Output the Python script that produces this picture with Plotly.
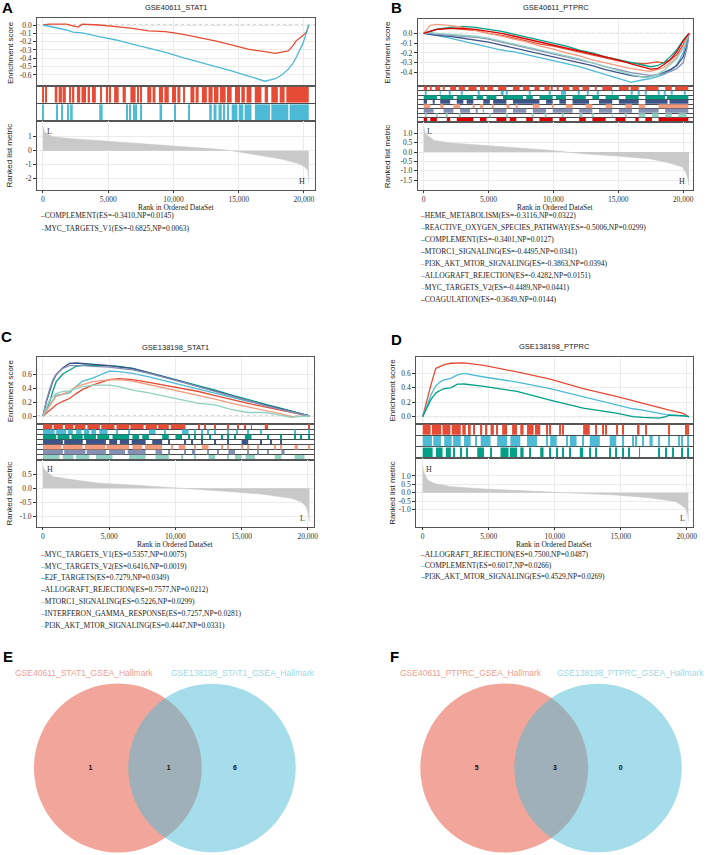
import plotly.graph_objects as go

# ============================ DATA ============================
NPG = ["#E64B35", "#4DBBD5", "#00A087", "#3C5488", "#F39B7F", "#8491B4", "#91D1C2", "#DC0000"]
X_TICKS = [0, 5000, 10000, 15000, 20000]
X_TICKTEXT = ["0", "5,000", "10,000", "15,000", "20,000"]

# ---- Panel A : GSE40611_STAT1 ----
A_title = "GSE40611_STAT1"
A_sets = ["COMPLEMENT", "MYC_TARGETS_V1"]
A_es = [-0.3410, -0.6825]
A_np = [0.0145, 0.0063]
A_rank = [0, 500, 1000, 1800, 2300, 2700, 3000, 4300, 5600, 6850, 8100, 9400, 10650, 11900,
          13200, 14450, 15700, 17000, 17800, 18300, 18800, 19150, 19400, 19900, 20200, 20370]
A_curve_1 = [0, 0.01, 0.01, 0.01, -0.01, -0.025, 0.01, 0.0, -0.02, -0.04, -0.07, -0.08, -0.11, -0.15,
             -0.19, -0.24, -0.29, -0.32, -0.34, -0.325, -0.31, -0.25, -0.19, -0.13, -0.08, 0.0]
A_curve_2 = [0, -0.015, -0.03, -0.06, -0.085, -0.09, -0.095, -0.14, -0.18, -0.23, -0.28, -0.33, -0.39, -0.44,
             -0.50, -0.55, -0.61, -0.675, -0.645, -0.60, -0.53, -0.46, -0.39, -0.23, -0.09, 0.0]
A_hits_1 = [0, 250, (900, 1100), (1200, 1450), (1500, 1750), 2080, (2280, 2400), (2600, 2850), (2950, 3300),
            (3420, 3600), (3750, 4050), (4380, 4500), (4820, 5000), (5100, 5200), (5450, 5800), (6100, 6350),
            (6700, 7100), 7300, 7500, (7990, 8300), (8400, 8620), (8880, 9200), (9300, 9640), (9890, 10200),
            (10300, 10530), 10800, (11300, 11600), (11700, 11930), (12180, 12560), (12680, 13000),
            (13100, 13450), (13570, 14000), (14100, 14460), (14710, 15100), (15200, 15470), (15600, 15980),
            (16230, 16740), (16990, 17250), (17500, 18000), (18140, 18520), (18650, 20370)]
A_hits_2 = [0, 1065, 1470, 1950, (2080, 2280), (4310, 4570), 6470, 6650, 6980, 7150, 7480, (8930, 9130),
            10150, 11160, (12740, 12940), (13070, 13300), (13450, 13700), (13800, 13950), 14200,
            (14460, 14900), (15000, 15350), (15450, 15980), (16240, 17400), (17500, 18800), (18900, 20370)]
A_metric_rank = [0, 30, 100, 250, 760, 1780, 4310, 6850, 9390, 10650, 11925, 13195, 14460, 15730,
                 17000, 18265, 19535, 20040, 20300, 20350, 20370]
A_metric = [1.75, 1.6, 1.4, 1.25, 1.0, 0.89, 0.72, 0.58, 0.41, 0.34, 0.22, 0.12, 0.0, -0.19,
            -0.38, -0.6, -0.91, -1.15, -1.4, -1.8, -2.35]
A_ends = ["L", "H"]
A_es_ticks = [0.0, -0.1, -0.2, -0.3, -0.4, -0.5, -0.6]
A_rk_ticks = [1, 0, -1, -2]

# ---- Panel B : GSE40611_PTPRC ----
B_title = "GSE40611_PTPRC"
B_sets = ["HEME_METABOLISM", "REACTIVE_OXYGEN_SPECIES_PATHWAY", "COMPLEMENT", "MTORC1_SIGNALING",
          "PI3K_AKT_MTOR_SIGNALING", "ALLOGRAFT_REJECTION", "MYC_TARGETS_V2", "COAGULATION"]
B_es = [-0.3116, -0.5006, -0.3401, -0.4495, -0.3863, -0.4282, -0.4489, -0.3649]
B_np = [0.0322, 0.0299, 0.0127, 0.0341, 0.0394, 0.0151, 0.0441, 0.0144]
B_rank = [0, 500, 1000, 2000, 3000, 4000, 5000, 6000, 7000, 8000, 9000, 10000, 11000, 12000, 13000,
          14000, 15000, 16000, 17000, 17500, 18000, 18500, 19000, 19500, 20000, 20300, 20450]
B_curve_1 = [0, 0.02, 0.04, 0.05, 0.04, 0.03, 0.0, -0.02, -0.05, -0.08, -0.11, -0.13, -0.16, -0.19, -0.22,
             -0.25, -0.28, -0.30, -0.31, -0.30, -0.29, -0.30, -0.27, -0.22, -0.12, -0.04, 0.0]
B_curve_2 = [0, -0.01, -0.02, -0.05, -0.08, -0.11, -0.14, -0.17, -0.19, -0.22, -0.25, -0.28, -0.31, -0.34,
             -0.38, -0.42, -0.46, -0.50, -0.47, -0.46, -0.44, -0.42, -0.38, -0.32, -0.20, -0.08, 0.0]
B_curve_3 = [0, 0.02, 0.04, 0.06, 0.07, 0.06, 0.04, 0.02, -0.01, -0.04, -0.07, -0.10, -0.13, -0.17, -0.20,
             -0.24, -0.27, -0.30, -0.33, -0.34, -0.33, -0.30, -0.24, -0.17, -0.07, -0.02, 0.0]
B_curve_4 = [0, -0.01, -0.02, -0.03, -0.05, -0.07, -0.09, -0.12, -0.15, -0.18, -0.21, -0.24, -0.27, -0.30,
             -0.33, -0.37, -0.40, -0.43, -0.445, -0.44, -0.42, -0.40, -0.37, -0.33, -0.24, -0.12, 0.0]
B_curve_5 = [0, 0.08, 0.09, 0.08, 0.06, 0.03, 0.0, -0.03, -0.06, -0.09, -0.13, -0.16, -0.20, -0.23, -0.27,
             -0.30, -0.33, -0.36, -0.38, -0.386, -0.37, -0.35, -0.30, -0.25, -0.15, -0.06, 0.0]
B_curve_6 = [0, 0.0, -0.01, -0.02, -0.03, -0.04, -0.06, -0.09, -0.12, -0.15, -0.18, -0.21, -0.24, -0.27,
             -0.30, -0.34, -0.37, -0.40, -0.42, -0.428, -0.42, -0.41, -0.39, -0.36, -0.30, -0.15, 0.0]
B_curve_7 = [0, 0.01, 0.0, -0.01, -0.02, -0.03, -0.05, -0.08, -0.11, -0.14, -0.17, -0.20, -0.23, -0.26,
             -0.30, -0.34, -0.38, -0.42, -0.449, -0.44, -0.42, -0.38, -0.32, -0.26, -0.15, -0.05, 0.0]
B_curve_8 = [0, 0.02, 0.04, 0.05, 0.05, 0.04, 0.02, 0.0, -0.03, -0.06, -0.09, -0.12, -0.15, -0.18, -0.21,
             -0.24, -0.27, -0.31, -0.35, -0.365, -0.36, -0.32, -0.27, -0.19, -0.08, -0.03, 0.0]
B_hits_1 = [(0, 255), 510, (893, 1275), 1530, (2040, 2500), (2700, 3188), (3443, 4080), (4335, 4700),
            (4900, 5355), (5738, 6375), (6885, 7395), (7650, 8160), (8543, 8925), (9308, 9690), (9800, 9945),
            10328, (10710, 11220), (11475, 11985), (12240, 12750), 13260, (13770, 14535), (15045, 15800),
            (15950, 16575), (17085, 18105), (18615, 19125), (19380, 20400)]
B_hits_2 = [128, 1275, 2040, 2933, 4208, 5993, 6120, 6375, 8160, 9690, (10583, 10965), 11985, 12623, 13388,
            14535, 16065, 16575, 17085, 18105, 18615, 19125, 20145]
B_hits_3 = [(0, 1020), (1275, 2295), (2550, 3825), (4080, 4590), (4845, 5610), (6120, 7650), (7905, 8415),
            (8925, 9945), (10200, 10965), (11475, 12495), (13005, 13515), (14025, 15045), (15555, 16575),
            (17085, 18600), (18750, 20400)]
B_hits_4 = [(0, 255), 765, (1275, 2040), (2550, 3060), (3315, 3825), (4590, 5100), (5355, 6375), (6885, 8925),
            (9435, 9945), (10455, 10965), (11475, 12750), (13515, 14535), (15045, 16575), (17085, 18800),
            (18950, 20400)]
B_hits_5 = [(0, 510), (1275, 1530), (2295, 2805), 3825, (4335, 4590), 5355, (6375, 6630), 7140, (8415, 8925),
            9945, (10965, 11475), (12495, 13005), (14025, 14535), (15555, 16065), (16575, 17085),
            (18105, 20400)]
B_hits_6 = [(0, 765), (1530, 2295), (2805, 3570), 4080, 4590, (5355, 6375), (6885, 7905), (8415, 9435),
            (9945, 11475), (11985, 13005), (13515, 14535), (15045, 16065), (16575, 18105), (18615, 20400)]
B_hits_7 = [128, 1020, 1785, 2805, 5100, 6375, 8415, 9435, 10710, (11985, 12240), 13005, 14535, 15555,
            (16575, 17085), (17595, 18105), (18615, 19125), (19635, 20273)]
B_hits_8 = [(0, 255), (510, 1020), (1785, 2040), (2550, 3825), (4335, 4845), (5610, 6375), (6630, 7140),
            (7905, 8415), (8925, 9945), (10455, 10965), (11985, 12495), (13005, 14025), (14790, 15555),
            (16320, 16575), (17085, 17595), (18105, 20400)]
B_metric_rank = [0, 60, 180, 810, 2090, 4640, 7190, 9745, 11020, 12300, 14850, 17400, 18670, 19950,
                 20200, 20400, 20450]
B_metric = [1.35, 1.15, 0.95, 0.62, 0.48, 0.36, 0.23, 0.09, 0.0, -0.09, -0.21, -0.36, -0.54, -0.80,
            -1.07, -1.5, -1.79]
B_ends = ["L", "H"]
B_es_ticks = [0.0, -0.1, -0.2, -0.3, -0.4]
B_rk_ticks = [1.0, 0.5, 0.0, -0.5, -1.0, -1.5]

# ---- Panel C : GSE138198_STAT1 ----
C_title = "GSE138198_STAT1"
C_sets = ["MYC_TARGETS_V1", "MYC_TARGETS_V2", "E2F_TARGETS", "ALLOGRAFT_REJECTION", "MTORC1_SIGNALING",
          "INTERFERON_GAMMA_RESPONSE", "PI3K_AKT_MTOR_SIGNALING"]
C_es = [0.5357, 0.6416, 0.7279, 0.7577, 0.5226, 0.7257, 0.4447]
C_np = [0.0075, 0.0019, 0.0349, 0.0212, 0.0299, 0.0281, 0.0331]
C_rank = [0, 250, 500, 750, 1000, 1500, 2000, 2500, 3000, 3750, 5000, 5750, 6750, 8000, 9250, 10500,
          11750, 13000, 14250, 15500, 16750, 18000, 18750, 19250, 19750, 20125]
C_curve_1 = [0, 0.04, 0.09, 0.13, 0.16, 0.21, 0.25, 0.32, 0.38, 0.44, 0.52, 0.535, 0.52, 0.48, 0.44, 0.40,
             0.35, 0.29, 0.23, 0.18, 0.13, 0.08, 0.05, 0.04, 0.02, 0.0]
C_curve_2 = [0, 0.08, 0.16, 0.24, 0.30, 0.31, 0.33, 0.42, 0.50, 0.54, 0.64, 0.635, 0.61, 0.56, 0.50, 0.45,
             0.39, 0.33, 0.27, 0.21, 0.16, 0.10, 0.07, 0.05, 0.02, 0.0]
C_curve_3 = [0, 0.10, 0.20, 0.36, 0.49, 0.60, 0.66, 0.71, 0.725, 0.728, 0.72, 0.71, 0.68, 0.62, 0.56, 0.50,
             0.43, 0.37, 0.30, 0.23, 0.17, 0.11, 0.07, 0.05, 0.02, 0.0]
C_curve_4 = [0, 0.20, 0.35, 0.50, 0.59, 0.69, 0.75, 0.757, 0.75, 0.74, 0.72, 0.70, 0.68, 0.62, 0.56, 0.49,
             0.42, 0.36, 0.29, 0.22, 0.16, 0.10, 0.06, 0.04, 0.02, 0.0]
C_curve_5 = [0, 0.08, 0.16, 0.22, 0.28, 0.32, 0.35, 0.42, 0.45, 0.49, 0.515, 0.52, 0.50, 0.45, 0.40, 0.35,
             0.30, 0.24, 0.18, 0.13, 0.09, 0.03, -0.01, -0.005, 0.0, 0.0]
C_curve_6 = [0, 0.22, 0.38, 0.52, 0.60, 0.68, 0.72, 0.725, 0.72, 0.71, 0.70, 0.68, 0.66, 0.61, 0.55, 0.48,
             0.42, 0.35, 0.28, 0.22, 0.15, 0.09, 0.06, 0.04, 0.02, 0.0]
C_curve_7 = [0, 0.12, 0.23, 0.28, 0.32, 0.35, 0.36, 0.39, 0.42, 0.44, 0.44, 0.42, 0.37, 0.33, 0.28, 0.23,
             0.18, 0.16, 0.09, 0.05, 0.05, 0.01, -0.02, -0.01, 0.0, 0.0]
C_hits_1 = [(0, 700), (800, 1500), (1650, 2300), (2400, 3200), (3350, 4300), (4400, 5400), (5550, 6500),
            (6600, 7600), (7750, 8600), (8700, 9500), (9650, 10750), 11750, 12250,
            13000, 14000, 14750, 15250, 15750, (16750, 17000), 20100]
C_hits_2 = [(0, 875), (1000, 1750), (1875, 2250), (2500, 2900), (3100, 3500), (3650, 4000), (4250, 4875),
            5625, 6500, (8000, 8500), 9250, (10500, 11000), 11500, 12000, 12500, 13000, 14000, 14625,
            15500, 16500, 19000, 20100]
C_hits_3 = [(0, 1000), (1100, 2000), (2150, 3000), (3100, 4000), (4100, 5000), (5250, 6500), (6750, 7250),
            (7500, 8000), (9000, 9500), (10000, 10500), 11000, 11500, 12000, 12625, 13500, 14000, 14500,
            (15250, 15750), 17000, 18000, 19000, 19500, 20100]
C_hits_4 = [(0, 1500), (1600, 3000), (3250, 4750), (5000, 5600), (5800, 6500), (6700, 7750), (8250, 9000),
            9500, 10750, 11250, 12000, 13000, 14000, (15000, 15500), 16500, 17250, 18000]
C_hits_5 = [(0, 1400), (1500, 3000), (3150, 4700), (4800, 6500), (6750, 7500), (7700, 9000), 9750,
            (10250, 10750), 11500, (12000, 12500), 13500, 14000, 15000, 15500, 16250, 17500, 18000,
            (19000, 19250), 20100]
C_hits_6 = [(0, 1500), (1600, 3200), (3300, 4750), (5000, 6200), (6400, 7750), (8500, 9000), 9500, 10750,
            (11250, 11500), 12500, 13250, (14000, 14500), 15500, 16250, 17000, (18000, 18250)]
C_hits_7 = [(0, 1250), (1500, 2300), (2500, 3500), (4000, 5250), (6500, 7750), (8500, 9500), 10500, 11500,
            (12500, 13000), 14000, (14500, 15000), (15300, 16000), (17500, 18000), (19000, 19750)]
C_metric_rank = [0, 30, 250, 750, 1750, 4250, 6750, 9250, 10500, 11750, 14250, 16750, 18750, 19500,
                 19875, 20050, 20125]
C_metric = [0.84, 0.75, 0.6, 0.42, 0.34, 0.18, 0.12, 0.05, 0.0, -0.04, -0.12, -0.22, -0.36, -0.48,
            -0.66, -0.9, -1.2]
C_ends = ["H", "L"]
C_es_ticks = [0.0, 0.2, 0.4, 0.6]
C_rk_ticks = [0.5, 0.0, -0.5, -1.0]

# ---- Panel D : GSE138198_PTPRC ----
D_title = "GSE138198_PTPRC"
D_sets = ["ALLOGRAFT_REJECTION", "COMPLEMENT", "PI3K_AKT_MTOR_SIGNALING"]
D_es = [0.7500, 0.6017, 0.4529]
D_np = [0.0487, 0.0266, 0.0269]
D_rank = [0, 200, 375, 625, 880, 1000, 1380, 1630, 2130, 2630, 2880, 3130, 4640, 5890, 7140, 9650, 12150,
          14660, 15910, 16670, 17170, 17920, 18420, 18670, 19670, 20050, 20170]
D_curve_1 = [0, 0.15, 0.25, 0.44, 0.60, 0.67, 0.70, 0.72, 0.74, 0.745, 0.75, 0.745, 0.71, 0.67, 0.62, 0.52,
             0.39, 0.28, 0.22, 0.19, 0.16, 0.13, 0.10, 0.09, 0.05, 0.01, 0.0]
D_curve_2 = [0, 0.10, 0.18, 0.30, 0.39, 0.43, 0.49, 0.51, 0.53, 0.58, 0.59, 0.60, 0.55, 0.52, 0.48, 0.39,
             0.28, 0.16, 0.11, 0.09, 0.07, 0.05, 0.03, 0.025, 0.015, 0.01, 0.0]
D_curve_3 = [0, 0.08, 0.14, 0.24, 0.30, 0.33, 0.37, 0.39, 0.40, 0.45, 0.45, 0.453, 0.42, 0.39, 0.35, 0.23,
             0.12, 0.05, 0.0, -0.01, -0.01, -0.02, 0.0, 0.02, 0.015, 0.01, 0.0]
D_hits_1 = [(0, 600), (700, 1400), (1500, 2100), (2200, 2880), (3000, 3260), (3430, 3640), 3880, (4390, 4510),
            (4760, 4890), (5140, 5390), 5640, (6020, 6390), (6770, 7140), (7390, 7640), (7900, 8400),
            (8500, 8900), 9400, 9650, 10400, 10650, (12150, 12650), 13160, 13660, 13910, (14660, 14780), 15160,
            (16290, 16420), 16920, 18670, 19920, 20120]
D_hits_2 = [(0, 700), (800, 1380), (1630, 2200), (2300, 2880), (3130, 3630), 4010, (4390, 5140), (5640, 6390),
            (6640, 7390), (7900, 8650), 9400, (9650, 10150), 10900, (11150, 11650), 12150, (12650, 13410),
            (14160, 14660), 15160, 15910, 16170, 16670, (17170, 17420), 17920, 18670, 19420, 19670, 20120]
D_hits_3 = [(0, 750), (1000, 1500), (1750, 2130), 2380, 2880, 3380, (4130, 4640), 5140, (5890, 6500),
            (6600, 7140), (7390, 7640), 8140, (8900, 9150), 9650, 10150, 10650, 11150, (11900, 12150), 12650,
            13160, 14160, 14660, 15160, 15660, 16420, 17920, 18420, 18920, 19670, 20120]
D_metric_rank = [0, 30, 125, 375, 880, 2130, 4640, 7140, 9650, 10900, 12150, 14660, 17170, 19170, 19920,
                 20080, 20120]
D_metric = [1.64, 1.4, 1.15, 0.75, 0.55, 0.36, 0.22, 0.14, 0.06, 0.0, -0.04, -0.14, -0.3, -0.53, -0.93,
            -1.3, -1.72]
D_ends = ["H", "L"]
D_es_ticks = [0.0, 0.2, 0.4, 0.6]
D_rk_ticks = [1.0, 0.5, 0.0, -0.5, -1.0]

# ---- Venn panels ----
E_names = ["GSE40611_STAT1_GSEA_Hallmark", "GSE138198_STAT1_GSEA_Hallmark"]
E_counts = [1, 1, 6]
F_names = ["GSE40611_PTPRC_GSEA_Hallmark", "GSE138198_PTPRC_GSEA_Hallmark"]
F_counts = [5, 3, 0]

# ============================ STYLE / GEOMETRY ============================
W, H = 708, 855
SERIF = "Liberation Serif, Times New Roman, serif"
SANS = "Liberation Sans, Arial, sans-serif"
BORDER = "#555555"
GRID = "#EBEBEB"
TXT = "#222222"
FILL = "#C9C9C9"

GEOM = {
    "A": dict(box=(37.3, 317.3), x0=43.3, ppr=0.01314, es_y=(18.3, 86), es_zero=25, es_ppu=83.3,
              hit_y=(86, 121), rk_y=(121, 190), rk_zero=150.7, rk_ppu=13.9,
              title_y=8, ytitle_x=10, xlab_y=207.8, leg_x=38, leg_y=215.2, leg_dy=13.0,
              ends=((500, 1.37), (19840, -2.2)), letter=(8, 8), es_dec=1, rk_dec=0),
    "B": dict(box=(420.7, 698.3), x0=426.7, ppr=0.013065, es_y=(19, 86), es_zero=33.3, es_ppu=98.3,
              hit_y=(86, 122), rk_y=(122, 190), rk_zero=152, rk_ppu=18.7,
              title_y=8, ytitle_x=390, xlab_y=207.8, leg_x=420.7, leg_y=215.5, leg_dy=12.05,
              ends=((430, 1.08), (19940, -1.59)), letter=(399, 8), es_dec=1, rk_dec=1),
    "C": dict(box=(37.3, 316), x0=43.3, ppr=0.013335, es_y=(356.7, 424), es_zero=416, es_ppu=70,
              hit_y=(424, 460), rk_y=(460, 527), rk_zero=488.3, rk_ppu=27.8,
              title_y=348, ytitle_x=10, xlab_y=544.8, leg_x=38, leg_y=554.3, leg_dy=11.8,
              ends=((500, 0.69), (19600, -1.07)), letter=(7, 336), es_dec=1, rk_dec=1),
    "D": dict(box=(419, 698), x0=425.7, ppr=0.0133, es_y=(356.7, 424), es_zero=416.7, es_ppu=72.2,
              hit_y=(424, 458.3), rk_y=(458.3, 527), rk_zero=492.7, rk_ppu=16.8,
              title_y=346, ytitle_x=395, xlab_y=544.8, leg_x=420.7, leg_y=554.3, leg_dy=11.3,
              ends=((500, 1.41), (19670, -1.52)), letter=(399, 339), es_dec=1, rk_dec=1),
}

fig = go.Figure()
axes = {}
annotations = []
shapes = []
counter = [0]


def fx(x):
    return x / W


def fy(y):
    return 1 - y / H


def note(**kw):
    kw.setdefault("xanchor", "center")
    kw.setdefault("yanchor", "middle")
    kw.setdefault("showarrow", False)
    annotations.append(kw)


def add_axes(xdom, ydom, xkw, ykw):
    counter[0] += 1
    n = counter[0]
    s = "" if n == 1 else str(n)
    axes["xaxis" + s] = dict(domain=[fx(xdom[0]), fx(xdom[1])], anchor="y" + s, **xkw)
    axes["yaxis" + s] = dict(domain=[fy(ydom[1]), fy(ydom[0])], anchor="x" + s, **ykw)
    return "x" + s, "y" + s


def seg(h):
    return (h, h) if isinstance(h, (int, float)) else h


def fmt(v, d):
    return f"{v:.{d}f}"


def draw_gsea(key, title, sets, es, nps, rank, curves, hits, m_rank, metric, ends, es_ticks, rk_ticks):
    G = GEOM[key]
    colors = NPG[:len(sets)]
    xr = [(G["box"][0] - G["x0"]) / G["ppr"], (G["box"][1] - G["x0"]) / G["ppr"]]
    es_r = [(G["es_zero"] - G["es_y"][1]) / G["es_ppu"], (G["es_zero"] - G["es_y"][0]) / G["es_ppu"]]
    rk_r = [(G["rk_zero"] - G["rk_y"][1]) / G["rk_ppu"], (G["rk_zero"] - G["rk_y"][0]) / G["rk_ppu"]]
    frame = dict(showline=True, mirror=True, linecolor=BORDER, linewidth=0.8, zeroline=False)
    tickfont = dict(family=SERIF, size=7.5, color="#333333")

    # Enrichment score panel
    xe, ye = add_axes(G["box"], G["es_y"],
                      dict(range=xr, tickvals=X_TICKS, showticklabels=False, ticks="",
                           showgrid=True, gridcolor=GRID, gridwidth=0.6, **frame),
                      dict(range=es_r, tickvals=es_ticks, ticktext=[fmt(v, G["es_dec"]) for v in es_ticks],
                           ticks="outside", ticklen=3, tickwidth=0.8, tickcolor="#333333", tickfont=tickfont,
                           showgrid=True, gridcolor=GRID, gridwidth=0.6, **frame))
    shapes.append(dict(type="line", xref=xe + " domain", x0=0, x1=1, yref=ye, y0=0, y1=0,
                       line=dict(color="#9A9A9A", width=0.8, dash="dot"), layer="below"))
    for c, v in zip(colors, curves):
        fig.add_trace(go.Scatter(x=rank, y=v, mode="lines", line=dict(color=c, width=1.3),
                                 xaxis=xe, yaxis=ye, hoverinfo="skip", showlegend=False))

    # Hit rows
    n = len(sets)
    xh, yh = add_axes(G["box"], G["hit_y"],
                      dict(range=xr, showticklabels=False, ticks="", showgrid=False, **frame),
                      dict(range=[0, n], tickvals=list(range(1, n)), showticklabels=False, ticks="",
                           showgrid=True, gridcolor="#4A4A4A", gridwidth=0.8, **frame))
    for i, (c, hl) in enumerate(zip(colors, hits)):
        xs, ws = [], []
        for h in hl:
            s, e = seg(h)
            xs.append((s + e) / 2)
            ws.append(max(e - s, 75))
        row_base = n - 1 - i
        fig.add_trace(go.Bar(x=xs, y=[0.9] * len(xs), base=[row_base + 0.05] * len(xs), width=ws,
                             marker=dict(color=c, line=dict(width=0)), xaxis=xh, yaxis=yh,
                             hoverinfo="skip", showlegend=False))

    # Ranked list metric
    xk, yk = add_axes(G["box"], G["rk_y"],
                      dict(range=xr, tickvals=X_TICKS, ticktext=X_TICKTEXT, ticks="outside", ticklen=2,
                           tickwidth=0.8, tickcolor="#333333", tickfont=dict(family=SERIF, size=7.5, color="#333333"),
                           showgrid=True, gridcolor=GRID, gridwidth=0.6, **frame),
                      dict(range=rk_r, tickvals=rk_ticks, ticktext=[fmt(v, G["rk_dec"]) for v in rk_ticks],
                           ticks="outside", ticklen=3, tickwidth=0.8, tickcolor="#333333", tickfont=tickfont,
                           showgrid=True, gridcolor=GRID, gridwidth=0.6, **frame))
    fig.add_trace(go.Scatter(x=m_rank, y=metric, mode="lines", fill="tozeroy", fillcolor=FILL,
                             line=dict(color=FILL, width=0.6), xaxis=xk, yaxis=yk,
                             hoverinfo="skip", showlegend=False))
    for txt, (ex, ey) in zip(ends, G["ends"]):
        note(xref=xk, yref=yk, x=ex, y=ey, text=txt, font=dict(family=SERIF, size=8, color="#333333"))

    # texts
    cx = (G["box"][0] + G["box"][1]) / 2
    note(xref="paper", yref="paper", x=fx(cx), y=fy(G["title_y"]), text=title,
         font=dict(family=SANS, size=7.5, color=TXT))
    note(xref="paper", yref="paper", x=fx(G["ytitle_x"]), y=fy((G["es_y"][0] + G["es_y"][1]) / 2),
         text="Enrichment score", textangle=-90, font=dict(family=SANS, size=8, color=TXT))
    note(xref="paper", yref="paper", x=fx(G["ytitle_x"]), y=fy((G["rk_y"][0] + G["rk_y"][1]) / 2),
         text="Ranked list metric", textangle=-90, font=dict(family=SANS, size=8, color=TXT))
    note(xref="paper", yref="paper", x=fx(cx), y=fy(G["xlab_y"]), text="Rank in Ordered DataSet",
         font=dict(family=SERIF, size=7.5, color=TXT))
    for i, (nm, e, p, c) in enumerate(zip(sets, es, nps, colors)):
        note(xref="paper", yref="paper", x=fx(G["leg_x"]), y=fy(G["leg_y"] + i * G["leg_dy"]),
             xanchor="left", text=f"<span style='color:{c}'><b>–</b></span>{nm}(ES={e:.4f},NP={p:.4f})",
             font=dict(family=SERIF, size=7.5, color=TXT))
    note(xref="paper", yref="paper", x=fx(G["letter"][0]), y=fy(G["letter"][1]), text=f"<b>{key}</b>",
         font=dict(family=SANS, size=15, color="black"))


draw_gsea("A", A_title, A_sets, A_es, A_np, A_rank, [A_curve_1, A_curve_2], [A_hits_1, A_hits_2],
          A_metric_rank, A_metric, A_ends, A_es_ticks, A_rk_ticks)
draw_gsea("B", B_title, B_sets, B_es, B_np, B_rank,
          [B_curve_1, B_curve_2, B_curve_3, B_curve_4, B_curve_5, B_curve_6, B_curve_7, B_curve_8],
          [B_hits_1, B_hits_2, B_hits_3, B_hits_4, B_hits_5, B_hits_6, B_hits_7, B_hits_8],
          B_metric_rank, B_metric, B_ends, B_es_ticks, B_rk_ticks)
draw_gsea("C", C_title, C_sets, C_es, C_np, C_rank,
          [C_curve_1, C_curve_2, C_curve_3, C_curve_4, C_curve_5, C_curve_6, C_curve_7],
          [C_hits_1, C_hits_2, C_hits_3, C_hits_4, C_hits_5, C_hits_6, C_hits_7],
          C_metric_rank, C_metric, C_ends, C_es_ticks, C_rk_ticks)
draw_gsea("D", D_title, D_sets, D_es, D_np, D_rank, [D_curve_1, D_curve_2, D_curve_3],
          [D_hits_1, D_hits_2, D_hits_3], D_metric_rank, D_metric, D_ends, D_es_ticks, D_rk_ticks)

# ============================ VENN ============================
VENN = {
    "E": dict(xdom=(0, 354), circles=((118.7, 768, 84.5), (213.5, 768, 84.3)),
              name_pos=((84.5, 673.3), (244.7, 673.3)), count_x=(91, 170, 236.7), letter=(8, 656)),
    "F": dict(xdom=(354, 708), circles=((507.8, 768, 84.5), (602.3, 768, 84.3)),
              name_pos=((474, 673.3), (635, 673.3)), count_x=(480, 559, 625), letter=(397, 656)),
}
for key, names, counts in (("E", E_names, E_counts), ("F", F_names, F_counts)):
    V = VENN[key]
    xv, yv = add_axes(V["xdom"], (640, 855),
                      dict(range=list(V["xdom"]), visible=False),
                      dict(range=[855, 640], visible=False))
    for (cx, cy, r), col in zip(V["circles"], (NPG[0], NPG[1])):
        shapes.append(dict(type="circle", xref=xv, yref=yv, x0=cx - r, x1=cx + r, y0=cy - r, y1=cy + r,
                           fillcolor=col, opacity=0.5, line=dict(width=0), layer="below"))
    fig.add_trace(go.Scatter(x=list(V["count_x"]), y=[768] * 3, mode="text", text=[str(c) for c in counts],
                             textfont=dict(family=SANS, size=7, color="#111111", weight="bold"),
                             xaxis=xv, yaxis=yv, hoverinfo="skip", showlegend=False))
    for nm, (nx, ny), col in zip(names, V["name_pos"], ("#EF9E92", "#9ED7E6")):
        note(xref=xv, yref=yv, x=nx, y=ny, text=nm, font=dict(family=SANS, size=8.5, color=col))
    note(xref="paper", yref="paper", x=fx(V["letter"][0]), y=fy(V["letter"][1]), text=f"<b>{key}</b>",
         font=dict(family=SANS, size=15, color="black"))

fig.update_layout(width=W, height=H, margin=dict(l=0, r=0, t=0, b=0), paper_bgcolor="white",
                  plot_bgcolor="white", showlegend=False, barmode="overlay",
                  annotations=annotations, shapes=shapes, **axes)
fig.write_html("out.html", config={"displayModeBar": False},
               post_script="document.body.style.margin='0px';document.body.style.overflow='hidden';")
